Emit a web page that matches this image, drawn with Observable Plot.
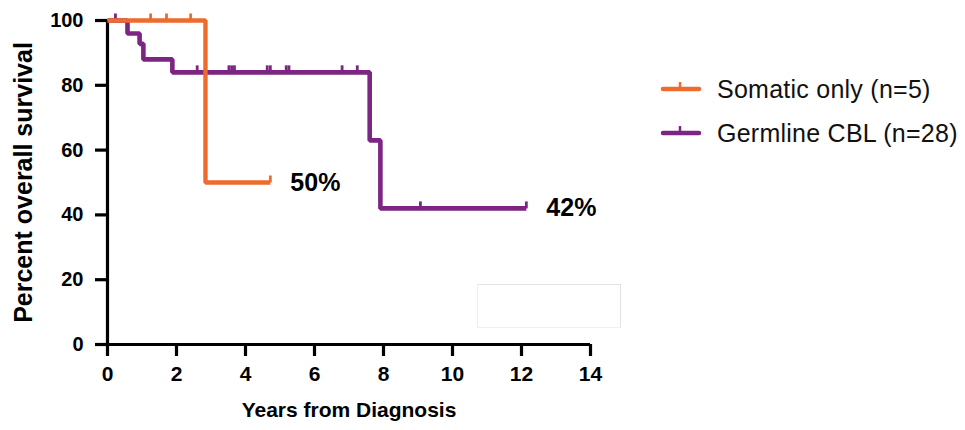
<!DOCTYPE html>
<html>
<head>
<meta charset="utf-8">
<script src="https://cdn.jsdelivr.net/npm/d3@7"></script>
<script src="https://cdn.jsdelivr.net/npm/@observablehq/plot@0.6"></script>
<style>
  html, body { margin: 0; padding: 0; background: #fff; }
  #wrap { position: relative; width: 965px; height: 430px; overflow: hidden; font-family: "Liberation Sans", Arial, Helvetica, sans-serif; }
  #chart { position: absolute; left: 0; top: 0; width: 965px; height: 430px; }
  #chart svg { width: 965px; height: 430px; max-width: none; }
  .legend { position: absolute; left: 660px; top: 70px; }
  .row { position: absolute; left: 0; height: 40px; white-space: nowrap; }
  .row svg { position: absolute; left: 0; top: 0; }
  .row span { position: absolute; left: 57px; top: 4px; font-size: 25px; color: #111; line-height: 30px; letter-spacing: 0.25px; }
  .ghost { position: absolute; left: 477px; top: 284px; width: 142px; height: 42px; border: 1px solid #e2e2e2; border-left-color: #eeeeee; border-bottom-color: #f0f0f0; background: #fff; }
</style>
</head>
<body>
<div id="wrap">
  <div id="chart"></div>
  <div class="ghost"></div>
  <div class="legend" id="legend"></div>
</div>
<script>
// ---- data ----
const seriesNames = ["Somatic only (n=5)", "Germline CBL (n=28)"];
const seriesColors = ["#EE6B2C", "#7D2582"];

const somaticTime = [0, 2.84, 4.72];
const somaticSurv = [100, 50, 50];
const somaticCensorTime = [1.25, 1.71, 2.41, 4.72];
const somaticCensorSurv = [100, 100, 100, 50];

const germlineTime = [0, 0.58, 0.93, 1.04, 1.88, 7.6, 7.91, 12.14];
const germlineSurv = [100, 96, 92.8, 88, 84, 63, 42, 42];
const germlineCensorTime = [0.23, 2.6, 3.52, 3.6, 3.68, 4.63, 4.72, 5.18, 5.26, 6.8, 7.24, 9.07, 12.14];
const germlineCensorSurv = [100, 84, 84, 84, 84, 84, 84, 84, 84, 84, 84, 42, 42];

const endLabels = ["50%", "42%"];

const xTicks = [0, 2, 4, 6, 8, 10, 12, 14];
const yTicks = [0, 20, 40, 60, 80, 100];
const xTitle = "Years from Diagnosis";
const yTitle = "Percent overall survival";

// ---- tables ----
const somatic = somaticTime.map((t, i) => ({t, s: somaticSurv[i]}));
const germline = germlineTime.map((t, i) => ({t, s: germlineSurv[i]}));
const somaticC = somaticCensorTime.map((t, i) => ({t, s: somaticCensorSurv[i]}));
const germlineC = germlineCensorTime.map((t, i) => ({t, s: germlineCensorSurv[i]}));
const ends = [
  {t: somaticTime[somaticTime.length - 1], s: somaticSurv[somaticSurv.length - 1], label: endLabels[0]},
  {t: germlineTime[germlineTime.length - 1], s: germlineSurv[germlineSurv.length - 1], label: endLabels[1]}
];

// vertical censor tick symbol
const censorTick = {
  draw(context, size) {
    const h = Math.sqrt(size / Math.PI);
    context.moveTo(0, 0);
    context.lineTo(0, -h);
  }
};

const font = "'Liberation Sans', Arial, Helvetica, sans-serif";

const plot = Plot.plot({
  width: 965,
  height: 430,
  marginLeft: 107,
  marginRight: 375,
  marginTop: 20,
  marginBottom: 86,
  style: {fontFamily: font, fontSize: "19px", fontWeight: "bold", color: "#000", background: "transparent"},
  x: {domain: [0, 14]},
  y: {domain: [0, 100]},
  marks: [
    Plot.axisX({ticks: xTicks, tickSize: 12, tickPadding: 10, stroke: "#000", strokeWidth: 3.2, strokeOpacity: 1, label: null, fontSize: 21, fontWeight: "bold", fill: "#000"}),
    Plot.axisY({ticks: yTicks, tickSize: 12, tickPadding: 12, stroke: "#000", strokeWidth: 3.2, strokeOpacity: 1, label: null, fontSize: 20, fontWeight: "bold", fill: "#000"}),
    Plot.ruleX([0], {stroke: "#000", strokeWidth: 3.2, strokeOpacity: 1}),
    Plot.ruleY([0], {stroke: "#000", strokeWidth: 3.2, strokeOpacity: 1}),
    Plot.line(germline, {x: "t", y: "s", curve: "step-after", stroke: seriesColors[1], strokeWidth: 4.6, strokeLinecap: "butt", strokeLinejoin: "miter"}),
    Plot.dot(germlineC, {x: "t", y: "s", symbol: censorTick, r: 7, fill: "none", stroke: seriesColors[1], strokeWidth: 2.8}),
    Plot.line(somatic, {x: "t", y: "s", curve: "step-after", stroke: seriesColors[0], strokeWidth: 4.4, strokeLinecap: "butt", strokeLinejoin: "miter"}),
    Plot.dot(somaticC, {x: "t", y: "s", symbol: censorTick, r: 7, fill: "none", stroke: seriesColors[0], strokeWidth: 2.8}),
    Plot.text(ends, {x: "t", y: "s", text: "label", dx: 20, textAnchor: "start", fontSize: 25, fontWeight: "bold", fill: "#000"}),
    Plot.text([xTitle], {frameAnchor: "bottom", dy: 72, fontSize: 21, fontWeight: "bold", fill: "#000"}),
    Plot.text([yTitle], {frameAnchor: "left", dx: -84, rotate: -90, textAnchor: "middle", fontSize: 25, fontWeight: "bold", fill: "#000"})
  ]
});
document.getElementById("chart").appendChild(plot);

// ---- legend ----
const legend = document.getElementById("legend");
seriesNames.forEach((name, i) => {
  const row = document.createElement("div");
  row.className = "row";
  row.style.top = (i * 44) + "px";
  row.innerHTML = `<svg width="50" height="40"><line x1="3" y1="19" x2="39" y2="19" stroke="${seriesColors[i]}" stroke-width="4.5" stroke-linecap="round"/><line x1="20" y1="19" x2="20" y2="12" stroke="${seriesColors[i]}" stroke-width="2.5"/></svg><span>${name}</span>`;
  legend.appendChild(row);
});
</script>
</body>
</html>
